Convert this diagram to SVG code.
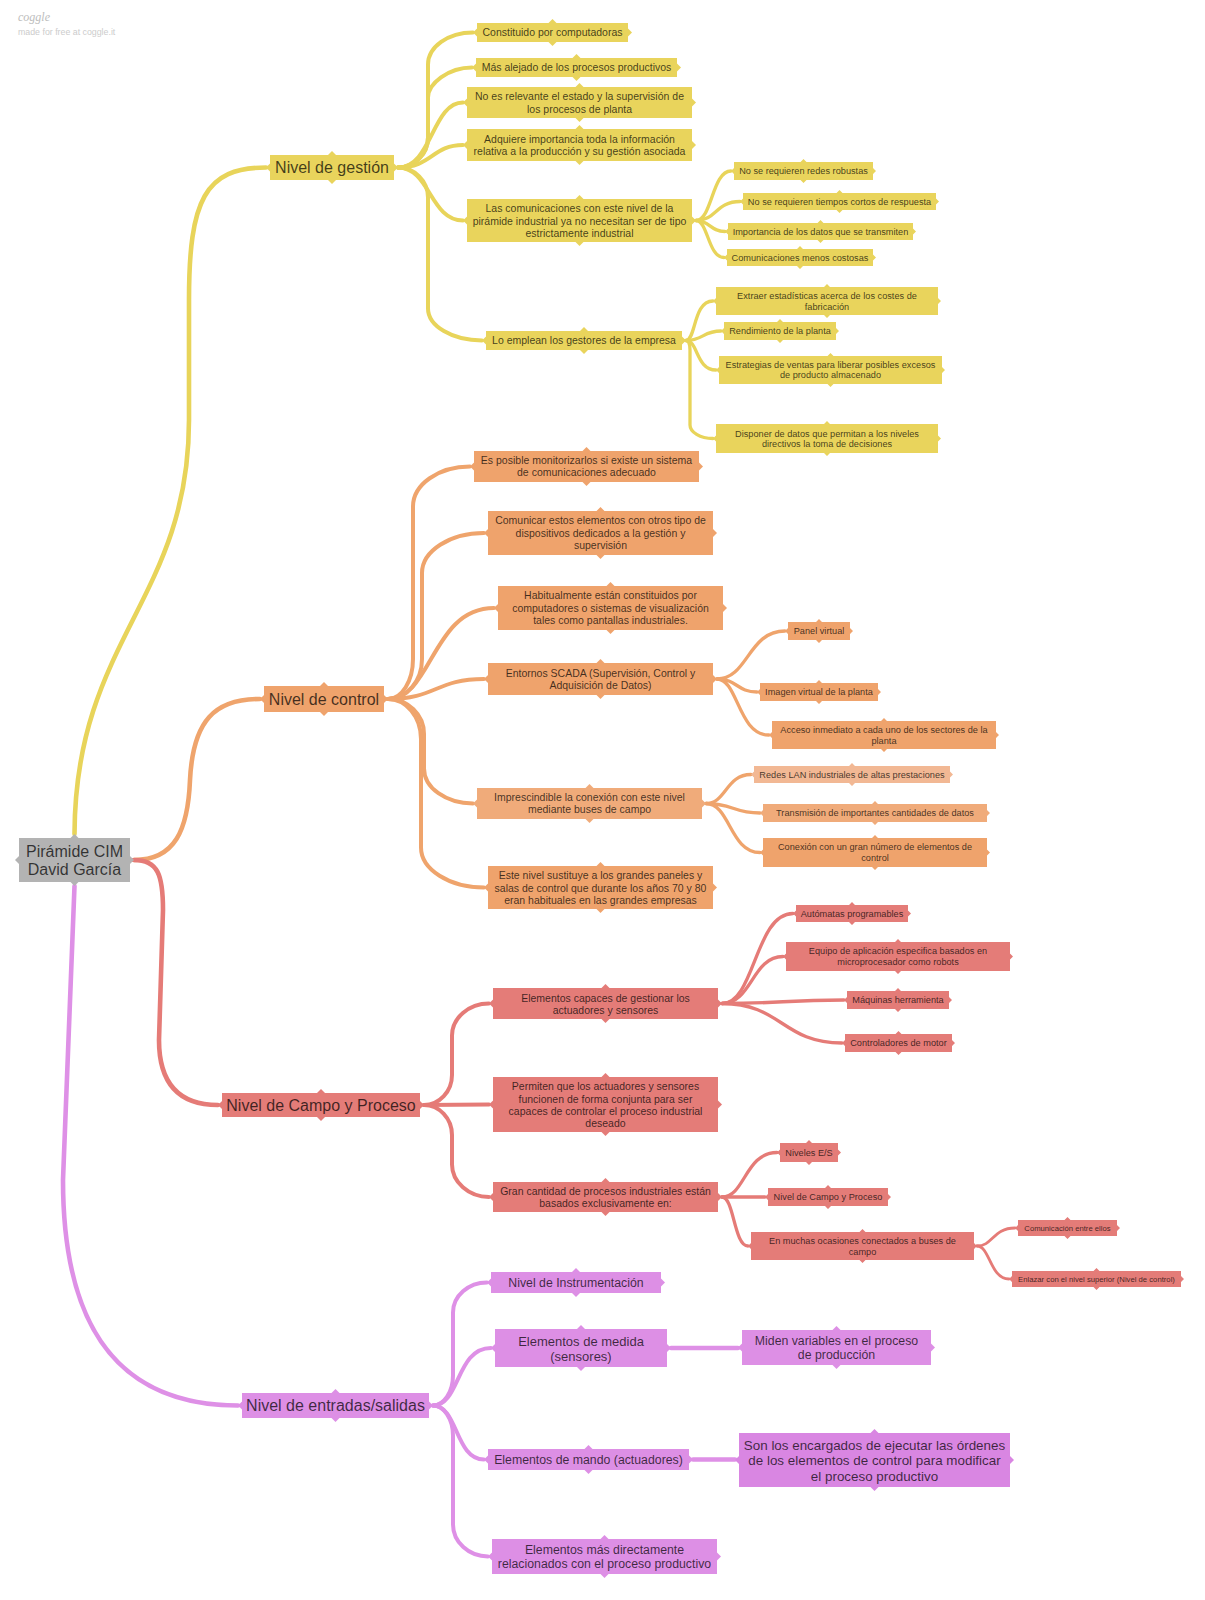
<svg xmlns="http://www.w3.org/2000/svg" width="1205" height="1600" viewBox="0 0 1205 1600">
<style>
.t{font-family:"Liberation Sans",Arial,sans-serif;fill:#000;fill-opacity:.72;text-anchor:middle}
.f16{font-size:16px}.f10{font-size:10.5px}.f9{font-size:9.2px}.f8{font-size:7.7px}.f12{font-size:12.3px}.f13{font-size:13px}.f135{font-size:13.4px}
.gn{fill:#b3b3b3}.yn{fill:#e9d45c}.on{fill:#efa36c}.ol{fill:#f0ab7a}.ox{fill:#f2b894}.rn{fill:#e47c78}.pn{fill:#dd8fe5}.pd{fill:#d986e2}
.c{fill:none;stroke-linecap:round;stroke-linejoin:round}
.yc{stroke:#e8d45a}.oc{stroke:#efa46c}.rc{stroke:#e57b77}.pc{stroke:#de90e6}
.w1{stroke-width:4.6}.w2{stroke-width:4}.w3{stroke-width:3.3}.w4{stroke-width:2.8}
</style>
<rect width="1205" height="1600" fill="#fff"/>
<text x="18" y="21" font-family="Liberation Serif,serif" font-style="italic" font-size="12" fill="#bdbdbd">coggle</text>
<text x="18" y="35" font-family="Liberation Sans,Arial,sans-serif" font-size="8.8" fill="#cccccc">made for free at coggle.it</text>

<g id="connectors">
<path class="c yc w1" d="M74.5 834C75 640 189 600 189 420L189 300C189 200 205 167.5 266 167.5"/>
<path class="c oc w1" d="M134 860C175 860 188 830 190 780C193 720 215 699 260 699"/>
<path class="c rc w1" d="M134 860C158 860 163 875 163 910L159 1040C159 1085 180 1105 218 1105"/>
<path class="c pc w1" d="M74.5 886L63 1180C63 1330 120 1405.5 238 1405.5"/>

<path class="c yc w2" d="M398 167.5C414.5 167.5 428 154 428 137.5L428 64.5C428 47 448 32.5 473 32.5"/>
<path class="c yc w2" d="M398 167.5C414.5 167.5 428 154 428 137.5L428 97.5C428 84 448 67.5 472 67.5"/>
<path class="c yc w2" d="M398 167.5C432 167.5 432 102.5 463 102.5"/>
<path class="c yc w2" d="M398 167.5C432 167.5 432 145 463 145"/>
<path class="c yc w2" d="M398 167.5C430 167.5 430 220.5 463 220.5"/>
<path class="c yc w2" d="M398 167.5C414.5 167.5 428 181 428 197.5L428 308.5C428 326 452.3 340.5 482 340.5"/>
<path class="c yc w3" d="M696 220.5C712 220.5 712 171 731 171"/>
<path class="c yc w3" d="M696 220.5C716 220.5 716 201.5 740 201.5"/>
<path class="c yc w3" d="M696 220.5C710 220.5 710 231.5 725 231.5"/>
<path class="c yc w3" d="M696 220.5C708 220.5 708 257.5 724 257.5"/>
<path class="c yc w3" d="M686 340.5C696 340.5 693 301 713 301"/>
<path class="c yc w3" d="M686 340.5C703 340.5 703 331 721 331"/>
<path class="c yc w3" d="M686 340.5C698 340.5 696 370 716 370"/>
<path class="c yc w3" d="M686 340.5C688 340.5 690 343 690 350L690 425C690 432 700 438.5 713 438.5"/>

<path class="c oc w2" d="M388 699C401.8 699 413 681 413 659L413 506.5C413 484.5 438.6 466.5 470 466.5"/>
<path class="c oc w2" d="M388 699C406.7 699 422 681 422 659L422 573C422 551 449.9 533 484 533"/>
<path class="c oc w2" d="M388 699C432 699 432 608 494 608"/>
<path class="c oc w2" d="M388 699C436 699 436 679 484 679"/>
<path class="c oc w2" d="M388 699C407.8 699 424 714.8 424 734L424 768.5C424 787.8 446 803.5 473 803.5"/>
<path class="c oc w2" d="M388 699C406.2 699 421 717 421 739L421 847.5C421 869.5 449.4 887.5 484 887.5"/>
<path class="c oc w3" d="M717 679C748 679 748 631 785 631"/>
<path class="c oc w3" d="M717 679C737 679 737 692 757 692"/>
<path class="c oc w3" d="M717 679C738 679 738 735 769 735"/>
<path class="c oc w3" d="M706 803.5C726 803.5 726 774.5 751 774.5"/>
<path class="c oc w3" d="M706 803.5C733 803.5 733 813 760 813"/>
<path class="c oc w3" d="M706 803.5C730 803.5 730 852.5 760 852.5"/>

<path class="c rc w2" d="M424 1105C439.4 1105 452 1091.5 452 1075L452 1035.5C452 1018.1 468.7 1003.5 489 1003.5"/>
<path class="c rc w2" d="M424 1105L489 1104.5"/>
<path class="c rc w2" d="M424 1105C439.4 1105 452 1118.5 452 1135L452 1164.5C452 1181.9 468.7 1197 489 1197"/>
<path class="c rc w3" d="M722 1003.5C755 1003.5 755 913.5 793 913.5"/>
<path class="c rc w3" d="M722 1003.5C752 1003.5 752 956.5 783 956.5"/>
<path class="c rc w3" d="M722 1003.5C783 1003.5 783 1000 844 1000"/>
<path class="c rc w3" d="M722 1003.5C782 1003.5 782 1043 842 1043"/>
<path class="c rc w3" d="M722 1197C745 1197 745 1152.5 777 1152.5"/>
<path class="c rc w3" d="M722 1197H765"/>
<path class="c rc w3" d="M722 1197C734 1197 734 1246 748 1246"/>
<path class="c rc w4" d="M977 1246C993 1246 993 1228 1015 1228"/>
<path class="c rc w4" d="M977 1246C990 1246 990 1279 1009 1279"/>

<path class="c pc w2" d="M433 1405.5C444 1405.5 453 1392 453 1375.5L453 1312.5C453 1296 468.3 1282.5 487 1282.5"/>
<path class="c pc w2" d="M433 1405.5C460 1405.5 456 1348 491 1348"/>
<path class="c pc w2" d="M433 1405.5C458 1405.5 455 1459.5 484 1459.5"/>
<path class="c pc w2" d="M433 1405.5C444 1405.5 453 1419 453 1435.5L453 1524.5C453 1542 468.8 1556.5 488 1556.5"/>
<path class="c pc w1" d="M671 1348H738"/>
<path class="c pc w1" d="M693 1459.5H735"/>
</g>

<g id="n-root"><path class="gn" d="M19 838h111v44h-111zM15 860l4-4 4 4-4 4zm111 0l4-4 4 4-4 4zm-55.5-22l4-4 4 4-4 4zm0 44l4-4 4 4-4 4z"/>
<text class="t f16"><tspan x="74.5" y="857">Pirámide CIM</tspan><tspan x="74.5" y="875">David García</tspan></text></g>

<g id="n-gestion"><path class="yn" d="M270 155h124v25h-124zM266 167.5l4-4 4 4-4 4zm124 0l4-4 4 4-4 4zm-62-12.5l4-4 4 4-4 4zm0 25l4-4 4 4-4 4z"/>
<text class="t f16" x="332" y="173">Nivel de gestión</text></g>
<g id="n-control"><path class="on" d="M264 686h120v26h-120zM260 699l4-4 4 4-4 4zm120 0l4-4 4 4-4 4zm-60-13l4-4 4 4-4 4zm0 26l4-4 4 4-4 4z"/>
<text class="t f16" x="324" y="704.6">Nivel de control</text></g>
<g id="n-campo"><path class="rn" d="M222 1093h198v24h-198zM218 1105l4-4 4 4-4 4zm198 0l4-4 4 4-4 4zm-99-12l4-4 4 4-4 4zm0 24l4-4 4 4-4 4z"/>
<text class="t f16" x="321" y="1110.6">Nivel de Campo y Proceso</text></g>
<g id="n-entradas"><path class="pn" d="M242 1393h187v25h-187zM238 1405.5l4-4 4 4-4 4zm187 0l4-4 4 4-4 4zm-93.5-12.5l4-4 4 4-4 4zm0 25l4-4 4 4-4 4z"/>
<text class="t f16" x="335.5" y="1411">Nivel de entradas/salidas</text></g>

<g id="n-y1"><path class="yn" d="M477 23h151v19h-151zM473 32.5l4-4 4 4-4 4zm151 0l4-4 4 4-4 4zm-75.5-9.5l4-4 4 4-4 4zm0 19l4-4 4 4-4 4z"/>
<text class="t f10" x="552.5" y="36.2">Constituido por computadoras</text></g>
<g id="n-y2"><path class="yn" d="M476 58h201v19h-201zM472 67.5l4-4 4 4-4 4zm201 0l4-4 4 4-4 4zm-100.5-9.5l4-4 4 4-4 4zm0 19l4-4 4 4-4 4z"/>
<text class="t f10" x="576.5" y="71.2">Más alejado de los procesos productivos</text></g>
<g id="n-y3"><path class="yn" d="M467 87h225v31h-225zM463 102.5l4-4 4 4-4 4zm225 0l4-4 4 4-4 4zm-112.5-15.5l4-4 4 4-4 4zm0 31l4-4 4 4-4 4z"/>
<text class="t f10"><tspan x="579.5" y="100.3">No es relevante el estado y la supervisión de</tspan><tspan x="579.5" y="112.6">los procesos de planta</tspan></text></g>
<g id="n-y4"><path class="yn" d="M467 129h225v32h-225zM463 145l4-4 4 4-4 4zm225 0l4-4 4 4-4 4zm-112.5-16l4-4 4 4-4 4zm0 32l4-4 4 4-4 4z"/>
<text class="t f10"><tspan x="579.5" y="142.8">Adquiere importancia toda la información</tspan><tspan x="579.5" y="155.1">relativa a la producción y su gestión asociada</tspan></text></g>
<g id="n-y5"><path class="yn" d="M467 199h225v43h-225zM463 220.5l4-4 4 4-4 4zm225 0l4-4 4 4-4 4zm-112.5-21.5l4-4 4 4-4 4zm0 43l4-4 4 4-4 4z"/>
<text class="t f10"><tspan x="579.5" y="212.2">Las comunicaciones con este nivel de la</tspan><tspan x="579.5" y="224.5">pirámide industrial ya no necesitan ser de tipo</tspan><tspan x="579.5" y="236.8">estrictamente industrial</tspan></text></g>
<g id="n-y6"><path class="yn" d="M486 331h196v19h-196zM482 340.5l4-4 4 4-4 4zm196 0l4-4 4 4-4 4zm-98-9.5l4-4 4 4-4 4zm0 19l4-4 4 4-4 4z"/>
<text class="t f10" x="584" y="344.2">Lo emplean los gestores de la empresa</text></g>

<g id="n-ya"><path class="yn" d="M734 162h139v18h-139zM731 171l3-3 3 3-3 3zm139 0l3-3 3 3-3 3zm-69.5-9l3-3 3 3-3 3zm0 18l3-3 3 3-3 3z"/>
<text class="t f9" x="803.5" y="174.3">No se requieren redes robustas</text></g>
<g id="n-yb"><path class="yn" d="M743 193h193v17h-193zM740 201.5l3-3 3 3-3 3zm193 0l3-3 3 3-3 3zm-96.5-8.5l3-3 3 3-3 3zm0 17l3-3 3 3-3 3z"/>
<text class="t f9" x="839.5" y="204.8">No se requieren tiempos cortos de respuesta</text></g>
<g id="n-yc"><path class="yn" d="M728 223h185v17h-185zM725 231.5l3-3 3 3-3 3zm185 0l3-3 3 3-3 3zm-92.5-8.5l3-3 3 3-3 3zm0 17l3-3 3 3-3 3z"/>
<text class="t f9" x="820.5" y="234.8">Importancia de los datos que se transmiten</text></g>
<g id="n-yd"><path class="yn" d="M727 249h146v17h-146zM724 257.5l3-3 3 3-3 3zm146 0l3-3 3 3-3 3zm-73-8.5l3-3 3 3-3 3zm0 17l3-3 3 3-3 3z"/>
<text class="t f9" x="800" y="260.8">Comunicaciones menos costosas</text></g>
<g id="n-ye"><path class="yn" d="M716 287h222v28h-222zM713 301l3-3 3 3-3 3zm222 0l3-3 3 3-3 3zm-111-14l3-3 3 3-3 3zm0 28l3-3 3 3-3 3z"/>
<text class="t f9"><tspan x="827" y="299.2">Extraer estadísticas acerca de los costes de</tspan><tspan x="827" y="309.8">fabricación</tspan></text></g>
<g id="n-yf"><path class="yn" d="M724 322h112v18h-112zM721 331l3-3 3 3-3 3zm112 0l3-3 3 3-3 3zm-56-9l3-3 3 3-3 3zm0 18l3-3 3 3-3 3z"/>
<text class="t f9" x="780" y="334.3">Rendimiento de la planta</text></g>
<g id="n-yg"><path class="yn" d="M719 356h223v28h-223zM716 370l3-3 3 3-3 3zm223 0l3-3 3 3-3 3zm-111.5-14l3-3 3 3-3 3zm0 28l3-3 3 3-3 3z"/>
<text class="t f9"><tspan x="830.5" y="367.6">Estrategias de ventas para liberar posibles excesos</tspan><tspan x="830.5" y="378.2">de producto almacenado</tspan></text></g>
<g id="n-yh"><path class="yn" d="M716 424h222v29h-222zM713 438.5l3-3 3 3-3 3zm222 0l3-3 3 3-3 3zm-111-14.5l3-3 3 3-3 3zm0 29l3-3 3 3-3 3z"/>
<text class="t f9"><tspan x="827" y="437">Disponer de datos que permitan a los niveles</tspan><tspan x="827" y="447.4">directivos la toma de decisiones</tspan></text></g>

<g id="n-o1"><path class="on" d="M474 451h225v31h-225zM470 466.5l4-4 4 4-4 4zm225 0l4-4 4 4-4 4zm-112.5-15.5l4-4 4 4-4 4zm0 31l4-4 4 4-4 4z"/>
<text class="t f10"><tspan x="586.5" y="464">Es posible monitorizarlos si existe un sistema</tspan><tspan x="586.5" y="476.4">de comunicaciones adecuado</tspan></text></g>
<g id="n-o2"><path class="on" d="M488 511h225v44h-225zM484 533l4-4 4 4-4 4zm225 0l4-4 4 4-4 4zm-112.5-22l4-4 4 4-4 4zm0 44l4-4 4 4-4 4z"/>
<text class="t f10"><tspan x="600.5" y="524.4">Comunicar estos elementos con otros tipo de</tspan><tspan x="600.5" y="536.7">dispositivos dedicados a la gestión y</tspan><tspan x="600.5" y="549">supervisión</tspan></text></g>
<g id="n-o3"><path class="on" d="M498 586h225v44h-225zM494 608l4-4 4 4-4 4zm225 0l4-4 4 4-4 4zm-112.5-22l4-4 4 4-4 4zm0 44l4-4 4 4-4 4z"/>
<text class="t f10"><tspan x="610.5" y="599.4">Habitualmente están constituidos por</tspan><tspan x="610.5" y="611.7">computadores o sistemas de visualización</tspan><tspan x="610.5" y="624">tales como pantallas industriales.</tspan></text></g>
<g id="n-o4"><path class="on" d="M488 663h225v32h-225zM484 679l4-4 4 4-4 4zm225 0l4-4 4 4-4 4zm-112.5-16l4-4 4 4-4 4zm0 32l4-4 4 4-4 4z"/>
<text class="t f10"><tspan x="600.5" y="676.7">Entornos SCADA (Supervisión, Control y</tspan><tspan x="600.5" y="689">Adquisición de Datos)</tspan></text></g>
<g id="n-o5"><path class="ol" d="M477 788h225v31h-225zM473 803.5l4-4 4 4-4 4zm225 0l4-4 4 4-4 4zm-112.5-15.5l4-4 4 4-4 4zm0 31l4-4 4 4-4 4z"/>
<text class="t f10"><tspan x="589.5" y="801">Imprescindible la conexión con este nivel</tspan><tspan x="589.5" y="813.4">mediante buses de campo</tspan></text></g>
<g id="n-o6"><path class="on" d="M488 866h225v43h-225zM484 887.5l4-4 4 4-4 4zm225 0l4-4 4 4-4 4zm-112.5-21.5l4-4 4 4-4 4zm0 43l4-4 4 4-4 4z"/>
<text class="t f10"><tspan x="600.5" y="879.4">Este nivel sustituye a los grandes paneles y</tspan><tspan x="600.5" y="891.7">salas de control que durante los años 70 y 80</tspan><tspan x="600.5" y="904">eran habituales en las grandes empresas</tspan></text></g>

<g id="n-oa"><path class="on" d="M788 622h62v18h-62zM785 631l3-3 3 3-3 3zm62 0l3-3 3 3-3 3zm-31-9l3-3 3 3-3 3zm0 18l3-3 3 3-3 3z"/>
<text class="t f9" x="819" y="634.3">Panel virtual</text></g>
<g id="n-ob"><path class="on" d="M760 683h118v18h-118zM757 692l3-3 3 3-3 3zm118 0l3-3 3 3-3 3zm-59-9l3-3 3 3-3 3zm0 18l3-3 3 3-3 3z"/>
<text class="t f9" x="819" y="695.3">Imagen virtual de la planta</text></g>
<g id="n-oc"><path class="on" d="M772 721h224v28h-224zM769 735l3-3 3 3-3 3zm224 0l3-3 3 3-3 3zm-112-14l3-3 3 3-3 3zm0 28l3-3 3 3-3 3z"/>
<text class="t f9"><tspan x="884" y="733.3">Acceso inmediato a cada uno de los sectores de la</tspan><tspan x="884" y="744">planta</tspan></text></g>
<g id="n-od"><path class="ox" d="M754 766h196v17h-196zM751 774.5l3-3 3 3-3 3zm196 0l3-3 3 3-3 3zm-98-8.5l3-3 3 3-3 3zm0 17l3-3 3 3-3 3z"/>
<text class="t f9" x="852" y="777.8">Redes LAN industriales de altas prestaciones</text></g>
<g id="n-oe"><path class="ol" d="M763 804h224v18h-224zM760 813l3-3 3 3-3 3zm224 0l3-3 3 3-3 3zm-112-9l3-3 3 3-3 3zm0 18l3-3 3 3-3 3z"/>
<text class="t f9" x="875" y="816.3">Transmisión de importantes cantidades de datos</text></g>
<g id="n-of"><path class="on" d="M763 838h224v29h-224zM760 852.5l3-3 3 3-3 3zm224 0l3-3 3 3-3 3zm-112-14.5l3-3 3 3-3 3zm0 29l3-3 3 3-3 3z"/>
<text class="t f9"><tspan x="875" y="850.3">Conexión con un gran número de elementos de</tspan><tspan x="875" y="861">control</tspan></text></g>

<g id="n-r1"><path class="rn" d="M493 988h225v31h-225zM489 1003.5l4-4 4 4-4 4zm225 0l4-4 4 4-4 4zm-112.5-15.5l4-4 4 4-4 4zm0 31l4-4 4 4-4 4z"/>
<text class="t f10"><tspan x="605.5" y="1001.7">Elementos capaces de gestionar los</tspan><tspan x="605.5" y="1014">actuadores y sensores</tspan></text></g>
<g id="n-r2"><path class="rn" d="M493 1077h225v55h-225zM489 1104.5l4-4 4 4-4 4zm225 0l4-4 4 4-4 4zm-112.5-27.5l4-4 4 4-4 4zm0 55l4-4 4 4-4 4z"/>
<text class="t f10"><tspan x="605.5" y="1090.2">Permiten que los actuadores y sensores</tspan><tspan x="605.5" y="1102.5">funcionen de forma conjunta para ser</tspan><tspan x="605.5" y="1114.8">capaces de controlar el proceso industrial</tspan><tspan x="605.5" y="1127.1">deseado</tspan></text></g>
<g id="n-r3"><path class="rn" d="M493 1182h225v30h-225zM489 1197l4-4 4 4-4 4zm225 0l4-4 4 4-4 4zm-112.5-15l4-4 4 4-4 4zm0 30l4-4 4 4-4 4z"/>
<text class="t f10"><tspan x="605.5" y="1194.6">Gran cantidad de procesos industriales están</tspan><tspan x="605.5" y="1206.9">basados exclusivamente en:</tspan></text></g>

<g id="n-ra"><path class="rn" d="M796 905h112v17h-112zM793 913.5l3-3 3 3-3 3zm112 0l3-3 3 3-3 3zm-56-8.5l3-3 3 3-3 3zm0 17l3-3 3 3-3 3z"/>
<text class="t f9" x="852" y="916.8">Autómatas programables</text></g>
<g id="n-rb"><path class="rn" d="M786 942h224v29h-224zM783 956.5l3-3 3 3-3 3zm224 0l3-3 3 3-3 3zm-112-14.5l3-3 3 3-3 3zm0 29l3-3 3 3-3 3z"/>
<text class="t f9"><tspan x="898" y="954.3">Equipo de aplicación especifica basados en</tspan><tspan x="898" y="965">microprocesador como robots</tspan></text></g>
<g id="n-rc"><path class="rn" d="M847 991h102v18h-102zM844 1000l3-3 3 3-3 3zm102 0l3-3 3 3-3 3zm-51-9l3-3 3 3-3 3zm0 18l3-3 3 3-3 3z"/>
<text class="t f9" x="898" y="1003.3">Máquinas herramienta</text></g>
<g id="n-rd"><path class="rn" d="M845 1034h107v18h-107zM842 1043l3-3 3 3-3 3zm107 0l3-3 3 3-3 3zm-53.5-9l3-3 3 3-3 3zm0 18l3-3 3 3-3 3z"/>
<text class="t f9" x="898.5" y="1046.3">Controladores de motor</text></g>
<g id="n-re"><path class="rn" d="M780 1143h58v19h-58zM777 1152.5l3-3 3 3-3 3zm58 0l3-3 3 3-3 3zm-29-9.5l3-3 3 3-3 3zm0 19l3-3 3 3-3 3z"/>
<text class="t f9" x="809" y="1155.8">Niveles E/S</text></g>
<g id="n-rf"><path class="rn" d="M768 1188h120v18h-120zM765 1197l3-3 3 3-3 3zm120 0l3-3 3 3-3 3zm-60-9l3-3 3 3-3 3zm0 18l3-3 3 3-3 3z"/>
<text class="t f9" x="828" y="1200.3">Nivel de Campo y Proceso</text></g>
<g id="n-rg"><path class="rn" d="M751 1232h223v28h-223zM748 1246l3-3 3 3-3 3zm223 0l3-3 3 3-3 3zm-111.5-14l3-3 3 3-3 3zm0 28l3-3 3 3-3 3z"/>
<text class="t f9"><tspan x="862.5" y="1244">En muchas ocasiones conectados a buses de</tspan><tspan x="862.5" y="1254.6">campo</tspan></text></g>
<g id="n-rh"><path class="rn" d="M1018 1220h99v16h-99zM1015 1228l3-3 3 3-3 3zm99 0l3-3 3 3-3 3zm-49.5-8l3-3 3 3-3 3zm0 16l3-3 3 3-3 3z"/>
<text class="t f8" x="1067.5" y="1230.8">Comunicación entre ellos</text></g>
<g id="n-ri"><path class="rn" d="M1012 1271h169v16h-169zM1009 1279l3-3 3 3-3 3zm169 0l3-3 3 3-3 3zm-84.5-8l3-3 3 3-3 3zm0 16l3-3 3 3-3 3z"/>
<text class="t f8" x="1096.5" y="1281.8">Enlazar con el nivel superior (Nivel de control)</text></g>

<g id="n-p1"><path class="pn" d="M491 1272h170v21h-170zM487 1282.5l4-4 4 4-4 4zm170 0l4-4 4 4-4 4zm-85-10.5l4-4 4 4-4 4zm0 21l4-4 4 4-4 4z"/>
<text class="t f12" x="576" y="1286.8">Nivel de Instrumentación</text></g>
<g id="n-p2"><path class="pn" d="M495 1329h172v38h-172zM491 1348l4-4 4 4-4 4zm172 0l4-4 4 4-4 4zm-86-19l4-4 4 4-4 4zm0 38l4-4 4 4-4 4z"/>
<text class="t f13"><tspan x="581" y="1345.6">Elementos de medida</tspan><tspan x="581" y="1360.6">(sensores)</tspan></text></g>
<g id="n-p3"><path class="pn" d="M488 1449h201v21h-201zM484 1459.5l4-4 4 4-4 4zm201 0l4-4 4 4-4 4zm-100.5-10.5l4-4 4 4-4 4zm0 21l4-4 4 4-4 4z"/>
<text class="t f12" x="588.5" y="1463.8">Elementos de mando (actuadores)</text></g>
<g id="n-p4"><path class="pn" d="M492 1539h225v35h-225zM488 1556.5l4-4 4 4-4 4zm225 0l4-4 4 4-4 4zm-112.5-17.5l4-4 4 4-4 4zm0 35l4-4 4 4-4 4z"/>
<text class="t f12"><tspan x="604.5" y="1553.6">Elementos más directamente</tspan><tspan x="604.5" y="1567.6">relacionados con el proceso productivo</tspan></text></g>
<g id="n-p5"><path class="pn" d="M742 1330h189v35h-189zM738 1347.5l4-4 4 4-4 4zm189 0l4-4 4 4-4 4zm-94.5-17.5l4-4 4 4-4 4zm0 35l4-4 4 4-4 4z"/>
<text class="t f12"><tspan x="836.5" y="1345">Miden variables en el proceso</tspan><tspan x="836.5" y="1359">de producción</tspan></text></g>
<g id="n-p6"><path class="pd" d="M739 1433h271v54h-271zM735 1460l4-4 4 4-4 4zm271 0l4-4 4 4-4 4zm-135.5-27l4-4 4 4-4 4zm0 54l4-4 4 4-4 4z"/>
<text class="t f135"><tspan x="874.5" y="1449.7">Son los encargados de ejecutar las órdenes</tspan><tspan x="874.5" y="1465.2">de los elementos de control para modificar</tspan><tspan x="874.5" y="1480.7">el proceso productivo</tspan></text></g>
</svg>
